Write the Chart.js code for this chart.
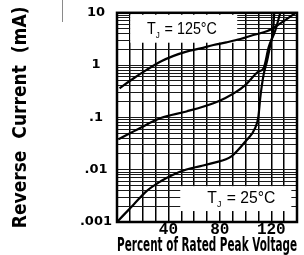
<!DOCTYPE html>
<html lang="en">
<head>
<meta charset="UTF-8">
<title>Reverse Current vs Percent of Rated Peak Voltage</title>
<script src="https://cdn.jsdelivr.net/npm/chart.js"></script>
<style>
  html, body { margin: 0; padding: 0; background: #fff; }
</style>
</head>
<body>
<canvas id="irChart" width="304" height="255"></canvas>

<script>
// x = percent of rated peak voltage, y = reverse current (mA)
const hotX = [2, 13, 23, 34, 44, 54, 65, 75, 85, 96, 106, 117, 127, 139];
const hotY = [0.36, 0.56, 0.81, 1.17, 1.5, 1.81, 2.09, 2.42, 2.72, 3.15, 3.76, 4.48, 6.27, 10];

const midX = [1, 18, 34, 54, 75, 84, 92, 100, 110, 114, 118, 123, 127];
const midY = [0.038, 0.063, 0.097, 0.13, 0.187, 0.233, 0.3, 0.42, 0.75, 0.87, 2.2, 4.5, 10];

const roomX = [0, 13, 23, 34, 44, 54, 65, 75, 89, 100, 107.5, 110, 111.4, 114, 116.6, 119.2, 121.3, 122.3];
const roomY = [0.001, 0.00217, 0.0039, 0.006, 0.0081, 0.0101, 0.0117, 0.0135, 0.018, 0.035, 0.063, 0.105, 0.234, 0.65, 1.17, 2.42, 4.35, 10];

const xTickLabels = ['40', '80', '120'];
const yDecades = [0.001, 0.01, 0.1, 1, 10];
const yTickLabels = ['.001', '.01', '.1', '1', '10'];
const yMinorSteps = [2, 3, 4, 5, 6, 7, 8, 9];

// the two white label boxes, placed in data units
const boxes = [
    { post: ' = 125°C', x0: 10.3, x1: 93.5, y0: 2.68, y1: 9.2, tx: 50.5, ty: 4.74, w: 70 },
    { post: ' = 25°C', x0: 49.2, x1: 135.6, y0: 0.00162, y1: 0.00485, tx: 96.7, ty: 0.00286, w: 68 }
];

const toPts = (xs, ys) => xs.map((v, i) => ({ x: v, y: ys[i] }));

const yGridValues = [];
yDecades.forEach(d => {
    yGridValues.push(d);
    if (d < 10) yMinorSteps.forEach(m => yGridValues.push(+(d * m).toPrecision(3)));
});

const NARROW = '"Liberation Sans Narrow", "DejaVu Sans Condensed", "Liberation Sans", sans-serif';

const decor = {
    id: 'decor',
    beforeDatasetsDraw(chart) {
        const { ctx, scales: { x, y } } = chart;
        boxes.forEach(b => {
            ctx.save();
            const l = x.getPixelForValue(b.x0), r = x.getPixelForValue(b.x1);
            const t = y.getPixelForValue(b.y1), btm = y.getPixelForValue(b.y0);
            ctx.fillStyle = '#fff';
            ctx.fillRect(l, t, r - l, btm - t);

            const big = '16px "Liberation Sans", sans-serif';
            const small = '9px "Liberation Sans", sans-serif';
            ctx.font = big;
            const wT = ctx.measureText('T').width;
            const wPost = ctx.measureText(b.post).width;
            ctx.font = small;
            const wJ = ctx.measureText('J').width + 1;
            const sx = b.w / (wT + wJ + wPost);
            const cx = x.getPixelForValue(b.tx), cy = y.getPixelForValue(b.ty);
            ctx.translate(cx - b.w / 2, cy);
            ctx.scale(sx, 1);
            ctx.fillStyle = '#000';
            ctx.textBaseline = 'middle';
            ctx.font = big;
            ctx.fillText('T', 0, 0);
            ctx.font = small;
            ctx.fillText('J', wT, 6);
            ctx.font = big;
            ctx.fillText(b.post, wT + wJ, 0);
            ctx.restore();
        });
    },
    afterDraw(chart) {
        const { ctx, chartArea: a } = chart;
        ctx.save();
        ctx.strokeStyle = '#000';
        ctx.lineWidth = 2.5;
        ctx.strokeRect(a.left, a.top, a.right - a.left, a.bottom - a.top);
        // faint scan line at the top left
        ctx.strokeStyle = '#8a8a8a';
        ctx.lineWidth = 1;
        ctx.beginPath();
        ctx.moveTo(62.5, 0);
        ctx.lineTo(62.5, 22);
        ctx.stroke();
        ctx.restore();
    }
};

const ctx = document.getElementById('irChart').getContext('2d');
const irChart = new Chart(ctx, {
    type: 'line',
    data: {
        datasets: [
            { data: toPts(hotX, hotY) },
            { data: toPts(midX, midY) },
            { data: toPts(roomX, roomY) }
        ]
    },
    options: {
        responsive: false,
        animation: false,
        devicePixelRatio: 1,
        layout: { padding: { top: 12, right: 7, left: 0, bottom: 0 } },
        plugins: { legend: { display: false }, tooltip: { enabled: false } },
        elements: {
            point: { radius: 0 },
            line: { borderColor: '#000', borderWidth: 2.2, cubicInterpolationMode: 'monotone', fill: false }
        },
        scales: {
            x: {
                type: 'linear',
                min: 0,
                max: 140,
                border: { display: false },
                grid: { color: '#000', lineWidth: 1.5, drawTicks: false },
                ticks: {
                    stepSize: 10,
                    autoSkip: false,
                    maxRotation: 0,
                    padding: 0,
                    color: '#000',
                    font: { family: '"Liberation Mono", monospace', weight: 'bold', size: 16, lineHeight: 1 },
                    callback: v => xTickLabels.includes(String(v)) ? String(v) : ''
                },
                title: {
                    display: true,
                    text: 'Percent of Rated Peak Voltage',
                    color: '#000',
                    padding: { top: 0, bottom: 0 },
                    font: { family: NARROW, weight: 'bold', size: 20, lineHeight: 0.95 }
                },
                afterFit: s => { s.height = 33; }
            },
            y: {
                type: 'logarithmic',
                min: 0.001,
                max: 10,
                border: { display: false },
                grid: { color: '#1a1a1a', lineWidth: 1, drawTicks: false },
                afterBuildTicks: s => { s.ticks = yGridValues.map(v => ({ value: v })); },
                ticks: {
                    autoSkip: false,
                    padding: 5,
                    crossAlign: 'center',
                    color: '#000',
                    font: { family: '"DejaVu Sans", sans-serif', weight: 'bold', size: 13 },
                    callback: v => {
                        const i = yDecades.findIndex(d => Math.abs(d - v) / d < 1e-6);
                        return i >= 0 ? yTickLabels[i] : '';
                    }
                },
                title: {
                    display: true,
                    text: 'Reverse  Current  (mA)',
                    color: '#000',
                    padding: { top: 10, bottom: 0 },
                    font: { family: NARROW, weight: 'bold', size: 19, lineHeight: 1.2 }
                },
                afterFit: s => { s.width = 117; }
            }
        }
    },
    plugins: [decor]
});
</script>
</body>
</html>
